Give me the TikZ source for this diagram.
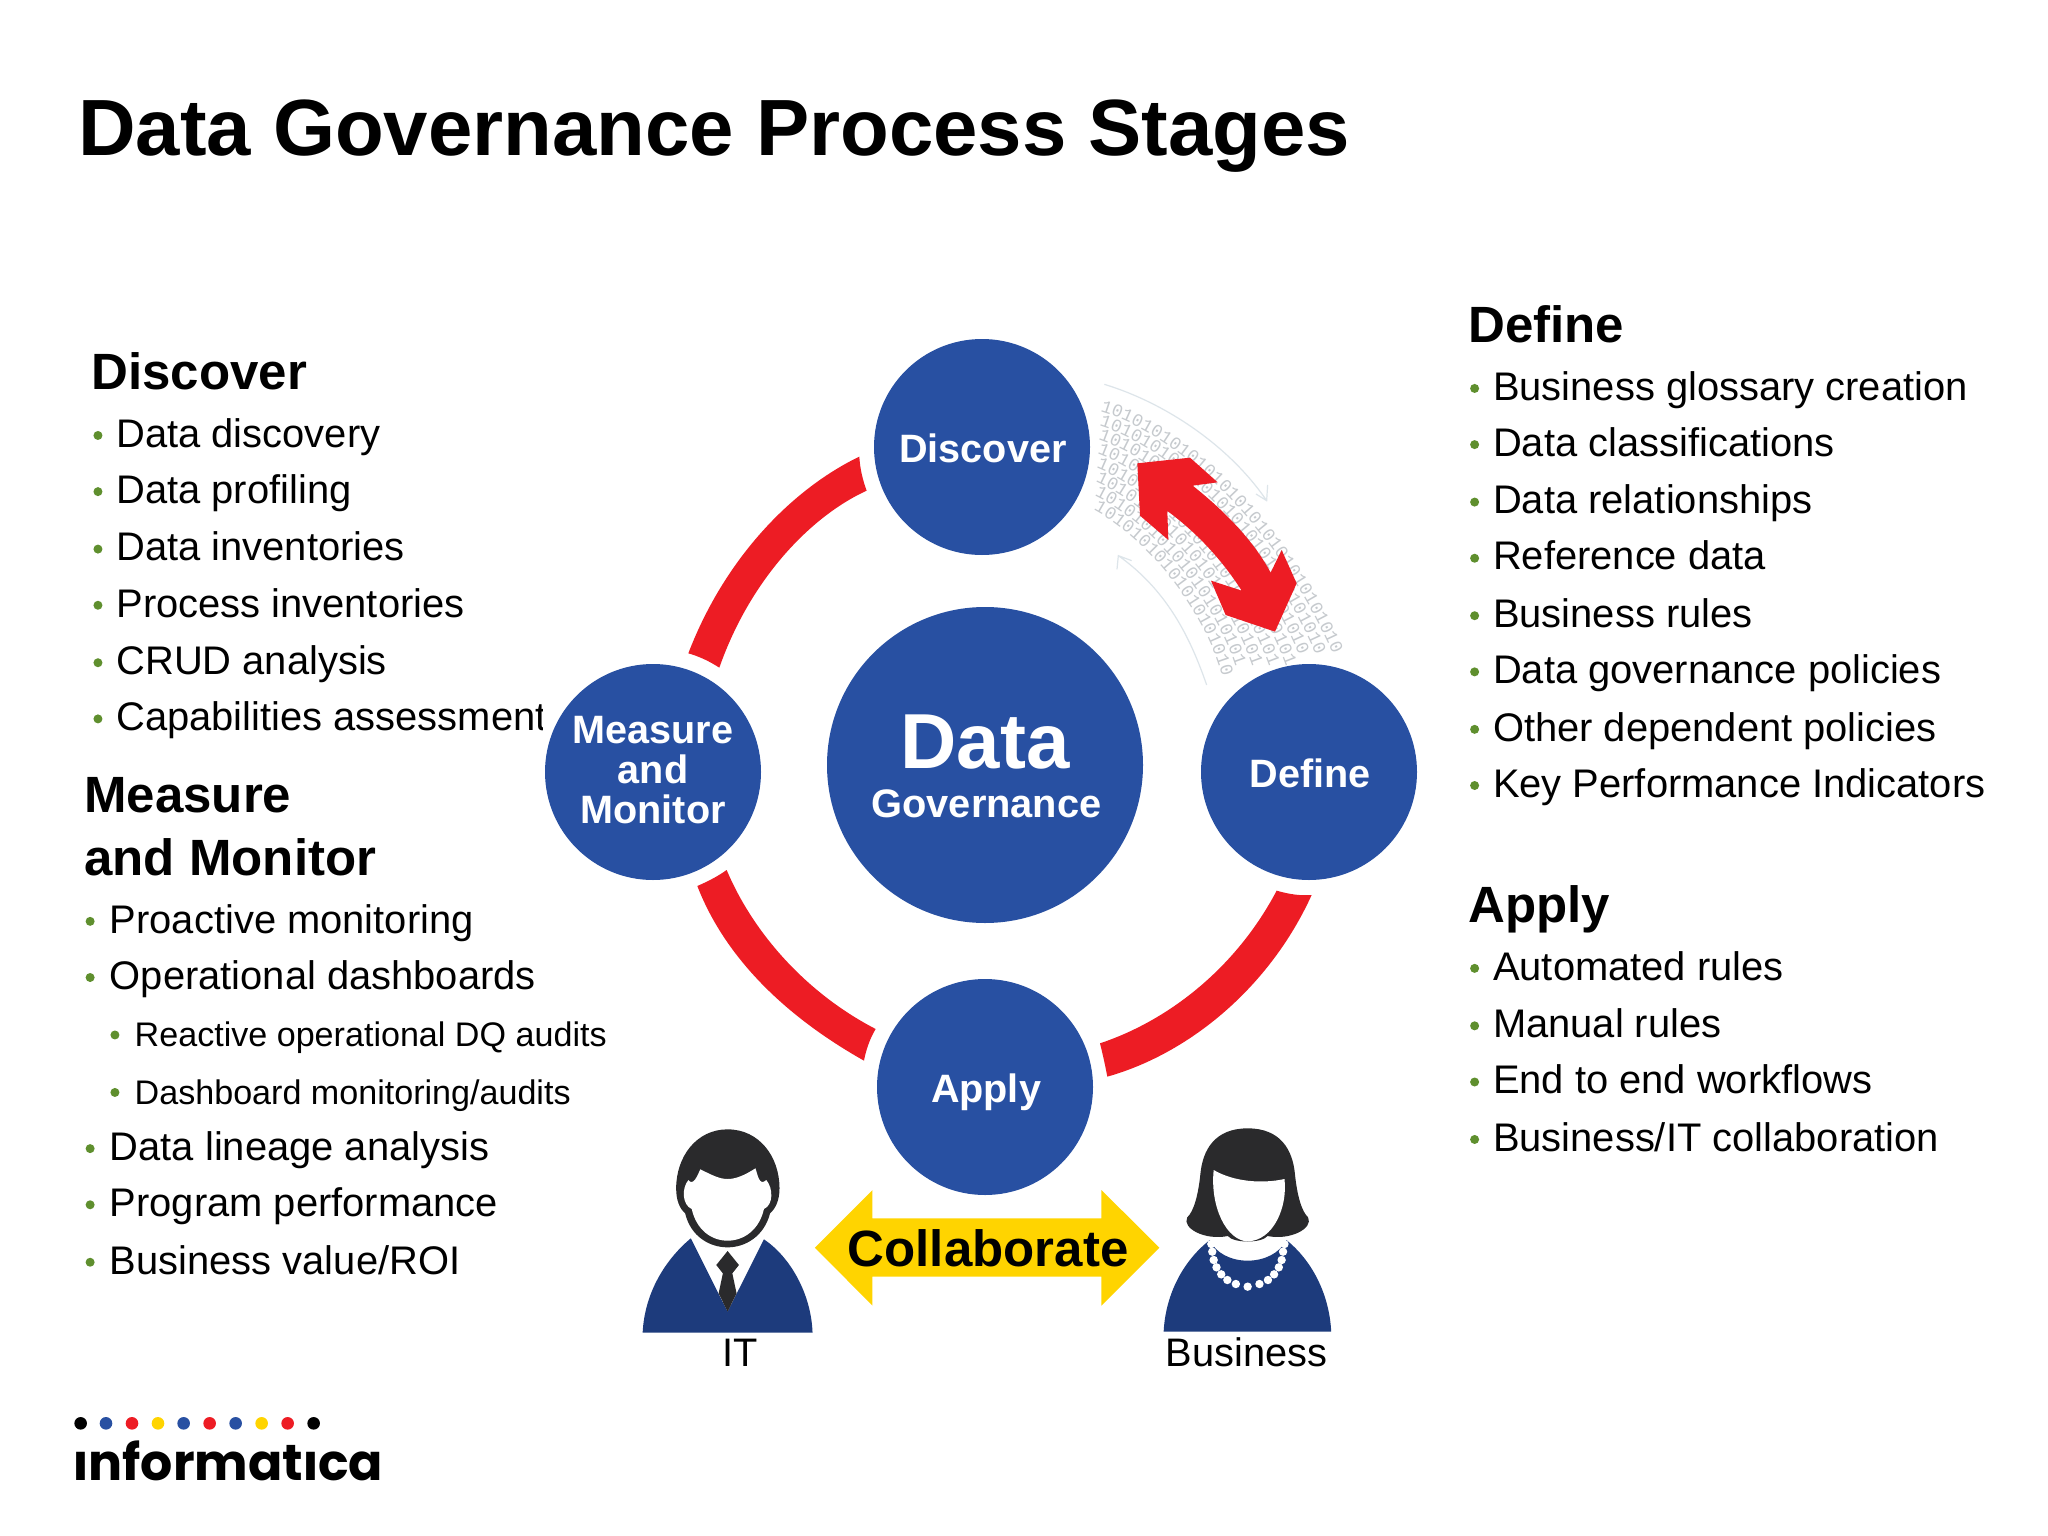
\documentclass[tikz,border=0pt]{standalone}
\usepackage{fontspec}
\setmainfont{Liberation Sans}
\newfontfamily\logofont{Poppins}
\newfontfamily\binmono{Liberation Mono}
\usetikzlibrary{decorations.text}
\definecolor{cblue}{HTML}{2850A2}
\definecolor{cred}{HTML}{ED1C24}
\definecolor{cyel}{HTML}{FFD400}
\definecolor{cgreen}{HTML}{5F8F2E}
\definecolor{cnavy}{HTML}{1D3B7C}
\definecolor{chair}{HTML}{2A2A2C}
\definecolor{cbin}{HTML}{C6CACE}
\definecolor{cpale}{HTML}{DDE5EA}
\newcommand\fs[1]{\fontsize{#1pt}{1.2\dimexpr#1pt\relax}\selectfont}
\newcommand\binfont{\binmono\fontsize{18pt}{18pt}\selectfont\color{cbin}}
\newsavebox\ibox
\newcommand\mi{\sbox\ibox{i}i\llap{\color{white}\rule[.575em]{\wd\ibox}{.38em}}}
\tikzset{
 stagecircle/.style={circle,fill=cblue,minimum size=216pt,inner sep=0pt,text=white,font=\fs{39.6}\bfseries,align=center,text depth=0pt},
 headtext/.style={anchor=base west,inner sep=0pt,font=\fs{51}\bfseries},
 itemtext/.style={anchor=base west,inner sep=0pt,font=\fs{39.9}},
 subtext/.style={anchor=base west,inner sep=0pt,font=\fs{34.1}},
 bulletdot/.style={circle,fill=cgreen,inner sep=0pt,minimum size=9pt},
 redshape/.style={fill=cred,draw=none},
 palearc/.style={draw=cpale,line width=1.2pt},
}
% #1 bullet x, #2 text x, #3 baseline y, #4 style, #5 text
\newcommand\blist[5]{%
 \node[bulletdot] (b-#3-#1) at (#1,#3-8.6) {};
 \node[#4] (t-#3-#1) at (#2,#3+0.4) {#5};
}
\begin{document}
\begin{tikzpicture}[x=1pt,y=-1pt]
\useasboundingbox (0,0) rectangle (2048,1536);
\fill[white] (0,0) rectangle (2048,1536);
\node[anchor=base west,inner sep=0pt,font=\fs{79.75}\bfseries] (title) at (78,156) {Data Governance Process Stages};

% text lists (coordinates of a 1568-wide view)
\begin{scope}[x=1.30612pt,y=-1.30612pt]
\node[headtext] (hdefine) at (1124,262) {Define};
\blist{1129}{1143}{306}{itemtext}{Business glossary creation}
\blist{1129}{1143}{349}{itemtext}{Data classifications}
\blist{1129}{1143}{393}{itemtext}{Data relationships}
\blist{1129}{1143}{436}{itemtext}{Reference data}
\blist{1129}{1143}{480}{itemtext}{Business rules}
\blist{1129}{1143}{523}{itemtext}{Data governance policies}
\blist{1129}{1143}{567}{itemtext}{Other dependent policies}
\blist{1129}{1143}{610}{itemtext}{Key Performance Indicators}
\node[headtext] (happly) at (1124,706) {Apply};
\blist{1129}{1143}{750}{itemtext}{Automated rules}
\blist{1129}{1143}{794}{itemtext}{Manual rules}
\blist{1129}{1143}{837}{itemtext}{End to end workflows}
\blist{1129}{1143}{881}{itemtext}{Business/IT collaboration}
\node[headtext] (hdiscover) at (70,298) {Discover};
\blist{75}{89}{342}{itemtext}{Data discovery}
\blist{75}{89}{385}{itemtext}{Data profiling}
\blist{75}{89}{429}{itemtext}{Data inventories}
\blist{75}{89}{472}{itemtext}{Process inventories}
\blist{75}{89}{516}{itemtext}{CRUD analysis}
\blist{75}{89}{559}{itemtext}{Capabilities assessment}
\node[headtext] (hmeasure) at (64.5,622) {Measure};
\node[headtext] (hmonitor) at (64.5,670) {and Monitor};
\blist{69}{84}{714}{itemtext}{Proactive monitoring}
\blist{69}{84}{757}{itemtext}{Operational dashboards}
\blist{88}{103}{801}{subtext}{Reactive operational DQ audits}
\blist{88}{103}{845}{subtext}{Dashboard monitoring/audits}
\blist{69}{84}{888}{itemtext}{Data lineage analysis}
\blist{69}{84}{931}{itemtext}{Program performance}
\blist{69}{84}{975}{itemtext}{Business value/ROI}
\end{scope}
% the circle's white margin cuts the last letter
\fill[white] (543,690) rectangle (565,745);

% binary band
\begin{scope}[shift={(1050,350)},x=0.3333pt,y=-0.3333pt]
\foreach \i in {0,...,7}{
  \pgfmathsetmacro\t{\i/7}
  \pgfmathsetmacro\ax{150-20*\t}\pgfmathsetmacro\ay{185+295*\t}
  \pgfmathsetmacro\bx{420-130*\t}\pgfmathsetmacro\by{265+300*\t}
  \pgfmathsetmacro\cx{700-240*\t}\pgfmathsetmacro\cy{575+200*\t}
  \pgfmathsetmacro\dx{845-330*\t}\pgfmathsetmacro\dy{905+70*\t}
  \path[decorate,decoration={text along path,text={|\binfont|1010101010101010101010101010101010101010101010101010101010101010101010}}]
    (\ax,\ay) .. controls (\bx,\by) and (\cx,\cy) .. (\dx,\dy);
}
\draw[palearc] (163,103) .. controls (350,160) and (540,290) .. (650,452) (653,405) -- (650,452) -- (618,432);
\draw[palearc] (470,1005) .. controls (420,860) and (350,720) .. (205,617) (201,658) -- (205,617) -- (245,632);
\fill[redshape] (262,340) -- (420,323) -- (503,397) -- (428,407) .. controls (520,480) and (610,570) .. (662,668)
  -- (695,600) -- (740,700) -- (675,845) -- (527,795) -- (483,692) -- (575,722)
  .. controls (510,620) and (430,540) .. (352,483) -- (355,570) -- (270,497) -- cycle;
\end{scope}

% red ring
\begin{scope}[shift={(670,440)},x=0.3333pt,y=-0.3333pt]
\fill[redshape] (568,50) .. controls (380,140) and (170,340) .. (55,640) .. controls (90,650) and (120,665) .. (148,683)
  .. controls (240,420) and (420,230) .. (590,152) .. controls (578,120) and (570,85) .. (568,50) -- cycle;
\end{scope}
\begin{scope}[shift={(680,860)},x=0.3333pt,y=-0.3333pt]
\fill[redshape] (52,78) .. controls (130,280) and (300,460) .. (552,602) .. controls (558,570) and (570,535) .. (587,507)
  .. controls (380,400) and (220,220) .. (140,30) .. controls (112,50) and (82,65) .. (52,78) -- cycle;
\end{scope}
\begin{scope}[shift={(1090,870)},x=0.3333pt,y=-0.3333pt]
\fill[redshape] (52,620) .. controls (300,550) and (540,350) .. (665,75) .. controls (630,78) and (595,72) .. (560,62)
  .. controls (440,290) and (240,450) .. (30,520) .. controls (38,552) and (46,588) .. (52,620) -- cycle;
\end{scope}

% circles
\node[stagecircle] (discover) at (982,447) {};
\node[inner sep=0pt,text=white,font=\fs{39.6}\bfseries,text depth=0pt] (discovertext) at (983,448.5) {Discover};
\node[stagecircle] (define) at (1309,772) {};
\node[inner sep=0pt,text=white,font=\fs{39.6}\bfseries,text depth=0pt] (definetext) at (1310,773.5) {Define};
\node[stagecircle] (apply) at (985,1087) {};
\node[inner sep=0pt,text=white,font=\fs{39.6}\bfseries,text depth=0pt] (applytext) at (986,1088.5) {Apply};
\node[stagecircle] (measure) at (653,772) {};
\node[inner sep=0pt,text=white,font=\fs{39.6}\bfseries,align=center,anchor=center] (measuretext) at (653,770) {Measure\\[-7.5pt]and\\[-7.5pt]Monitor};
\node[stagecircle,minimum size=316pt] (core) at (985,765) {};
\node[anchor=base,inner sep=0pt,text=white,font=\fs{78}\bfseries] (coredata) at (985,768) {Data};
\node[anchor=base,inner sep=0pt,text=white,font=\fs{39.8}\bfseries] (coregov) at (986.5,817) {Governance};

% people and collaborate arrow (x 2.119/px, y 3/px)
\begin{scope}[shift={(620,1110)},x=0.47192pt,y=-0.33333pt]
\fill[cyel] (413,413) -- (535,240) -- (535,325) -- (1020,325) -- (1020,240) -- (1143,413) -- (1020,587) -- (1020,500) -- (535,500) -- (535,587) -- cycle;
\node[font=\fs{51}\bfseries,inner sep=0pt,text depth=0pt] (collab) at (780,414) {Collaborate};
\node[anchor=base,font=\fs{39.8},inner sep=0pt] (itlabel) at (255,768) {IT};
\node[anchor=base,font=\fs{39.8},inner sep=0pt] (bizlabel) at (1328,768) {Business};
% man
\fill[cnavy] (48,668) .. controls (52,550) and (95,450) .. (150,385) -- (228,605) -- (305,388) .. controls (360,440) and (405,550) .. (408,668) -- cycle;
\fill[chair] (228,423) -- (252,465) -- (238,490) -- (247,550) -- (228,605) -- (209,550) -- (218,490) -- (204,465) -- cycle;
\fill[chair] (228,58) .. controls (295,58) and (338,140) .. (338,235) .. controls (338,270) and (330,295) .. (318,310)
  .. controls (305,380) and (265,412) .. (228,412) .. controls (190,412) and (150,380) .. (138,310)
  .. controls (126,295) and (119,270) .. (119,235) .. controls (119,140) and (162,58) .. (228,58) -- cycle;
\fill[white] (170,178) .. controls (195,195) and (210,207) .. (228,207) .. controls (246,207) and (265,195) .. (287,175)
  .. controls (292,195) and (295,230) .. (310,210) .. controls (325,235) and (325,285) .. (305,297)
  .. controls (295,360) and (262,392) .. (228,392) .. controls (194,392) and (162,360) .. (152,297)
  .. controls (132,285) and (130,235) .. (145,210) .. controls (155,230) and (165,195) .. (170,178) -- cycle;
% woman
\fill[cnavy] (1152,665) .. controls (1156,550) and (1195,450) .. (1250,390) .. controls (1262,430) and (1295,452) .. (1330,452)
  .. controls (1365,452) and (1398,430) .. (1412,390) .. controls (1465,450) and (1503,550) .. (1507,665) -- cycle;
\fill[chair] (1330,55) .. controls (1400,55) and (1425,120) .. (1430,190) .. controls (1435,260) and (1445,305) .. (1458,322)
  .. controls (1470,355) and (1420,392) .. (1372,378) .. controls (1360,400) and (1300,400) .. (1288,378)
  .. controls (1240,392) and (1190,355) .. (1202,322) .. controls (1215,305) and (1225,260) .. (1230,190)
  .. controls (1235,120) and (1260,55) .. (1330,55) -- cycle;
\fill[white] (1258,180) .. controls (1300,215) and (1360,222) .. (1408,207) .. controls (1415,290) and (1385,392) .. (1330,394)
  .. controls (1285,392) and (1250,290) .. (1258,180) -- cycle;
\foreach \px/\py in {1253/402,1255/425,1258/450,1264/472,1274/493,1287/510,1305/522,1330/530,1355/522,1373/510,1386/493,1396/472,1402/450,1405/425,1408/402}
  \fill[white] (\px,\py) circle[radius=4.2pt];
\end{scope}

% logo
\begin{scope}[shift={(50,1400)},x=0.3333pt,y=-0.3333pt]
\node[anchor=base west,inner sep=0pt,font=\logofont\bfseries\fs{50.6}] (logo) at (70,240) {\mi nformat\mi ca};
\foreach \dotx/\dotc [count=\k] in {92/black,168/cblue,246/cred,324/cyel,401/cblue,479/cred,557/cblue,635/cyel,713/cred,791/black}
  \node[circle,fill=\dotc,inner sep=0pt,minimum size=12.6pt] (dot\k) at (\dotx,70) {};
\end{scope}
\end{tikzpicture}
\end{document}
